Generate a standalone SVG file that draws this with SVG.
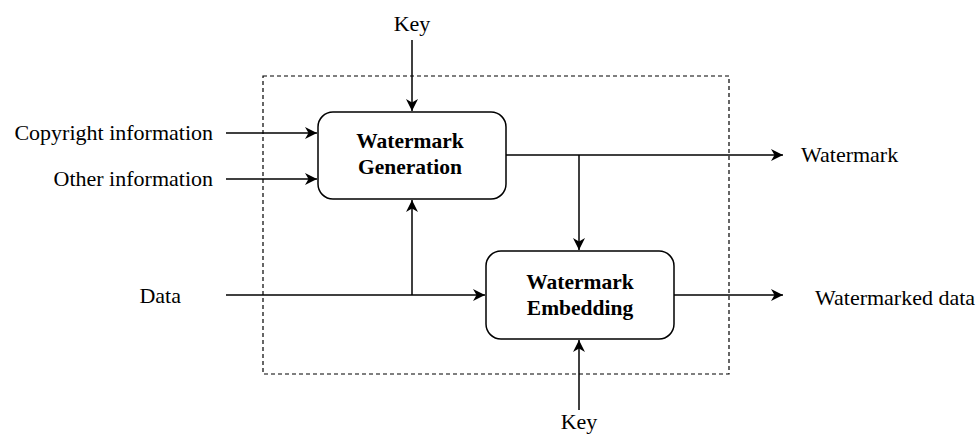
<svg xmlns="http://www.w3.org/2000/svg" width="977" height="436" viewBox="0 0 977 436">
<style>
.t{font-family:"Liberation Serif","Times New Roman",serif;font-size:22px;fill:#000}
.b{font-family:"Liberation Serif","Times New Roman",serif;font-size:21.5px;font-weight:bold;fill:#000;text-anchor:middle}
.box{fill:#fff;stroke:#000;stroke-width:1.5}
.c{fill:none;stroke:#000;stroke-width:1.5}
</style>
<defs>
<marker id="a" markerWidth="14" markerHeight="14" refX="12" refY="7" orient="auto" markerUnits="userSpaceOnUse">
<path d="M0,1 L12,7 L0,13 L3.5,7 Z" fill="#000"/>
</marker>
</defs>
<rect x="263" y="76" width="466" height="298" fill="none" stroke="#000" stroke-width="1.2" stroke-dasharray="4,3"/>
<g id="connectors">
<path class="c" d="M412,40 V111" marker-end="url(#a)"/>
<path class="c" d="M226,133 H317" marker-end="url(#a)"/>
<path class="c" d="M226,179 H317" marker-end="url(#a)"/>
<path class="c" d="M226,295 H485" marker-end="url(#a)"/>
<path class="c" d="M412,295 V200" marker-end="url(#a)"/>
<path class="c" d="M506,155 H783" marker-end="url(#a)"/>
<path class="c" d="M579,155 V250" marker-end="url(#a)"/>
<path class="c" d="M674,295 H783" marker-end="url(#a)"/>
<path class="c" d="M579,410 V340" marker-end="url(#a)"/>
</g>
<g id="gen">
<rect class="box" x="318" y="112" width="188" height="87" rx="15"/>
<text class="b" x="410" y="148">Watermark</text>
<text class="b" x="410" y="174">Generation</text>
</g>
<g id="emb">
<rect class="box" x="486" y="251" width="188" height="88" rx="15"/>
<text class="b" x="580" y="289">Watermark</text>
<text class="b" x="580" y="315">Embedding</text>
</g>
<g id="labels">
<text class="t" x="412" y="31" text-anchor="middle">Key</text>
<text class="t" x="579" y="429" text-anchor="middle">Key</text>
<text class="t" x="213" y="140" text-anchor="end">Copyright information</text>
<text class="t" x="213" y="186" text-anchor="end">Other information</text>
<text class="t" x="181" y="303" text-anchor="end">Data</text>
<text class="t" x="801" y="162">Watermark</text>
<text class="t" x="815" y="305">Watermarked data</text>
</g>
</svg>
